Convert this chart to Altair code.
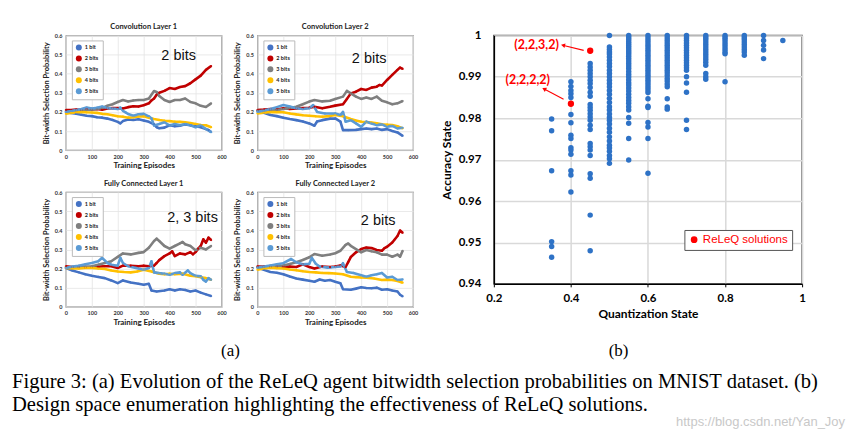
import altair as alt
import pandas as pd

# ---------------- data: bit-width selection probabilities ----------------
SERIES = ["1 bit", "2 bits", "3 bits", "4 bits", "5 bits"]
COLORS = ["#4472C4", "#C00000", "#7F7F7F", "#FFC000", "#5B9BD5"]

conv1 = {
    "1 bit": ([0,20,40,60,80,100,120,140,160,180,200,210,220,240,260,280,300,320,340,350,360,380,400,420,440,460,480,500,520,540,550,560],
              [0.20,0.195,0.19,0.185,0.18,0.178,0.172,0.17,0.165,0.158,0.148,0.14,0.152,0.16,0.158,0.162,0.155,0.148,0.135,0.12,0.115,0.118,0.13,0.125,0.128,0.135,0.13,0.125,0.12,0.11,0.105,0.095]),
    "2 bits": ([0,20,40,60,80,100,120,140,160,180,200,220,240,260,280,300,320,330,340,350,360,380,400,420,440,460,480,500,520,540,560],
               [0.21,0.21,0.212,0.21,0.215,0.213,0.215,0.212,0.218,0.22,0.22,0.218,0.225,0.23,0.228,0.235,0.245,0.26,0.27,0.29,0.30,0.31,0.325,0.32,0.33,0.335,0.35,0.37,0.39,0.42,0.44]),
    "3 bits": ([0,20,40,60,80,100,120,140,160,180,200,220,240,260,280,300,320,340,350,360,380,400,420,440,460,480,500,520,540,560],
               [0.20,0.202,0.205,0.208,0.21,0.212,0.215,0.22,0.232,0.24,0.252,0.262,0.255,0.26,0.262,0.262,0.27,0.309,0.304,0.283,0.262,0.252,0.262,0.262,0.27,0.252,0.245,0.232,0.226,0.245]),
    "4 bits": ([0,20,40,60,80,100,120,140,160,180,200,220,240,260,280,300,320,340,360,380,400,420,440,460,480,500,520,540,560],
               [0.19,0.195,0.198,0.2,0.198,0.197,0.195,0.19,0.188,0.183,0.177,0.175,0.17,0.172,0.176,0.177,0.17,0.163,0.158,0.154,0.152,0.149,0.148,0.146,0.142,0.137,0.132,0.13,0.12]),
    "5 bits": ([0,20,40,60,80,100,120,140,160,180,200,210,220,230,240,260,280,300,320,330,340,360,380,400,420,440,460,480,500,520,540,560],
               [0.20,0.205,0.21,0.215,0.223,0.218,0.222,0.228,0.22,0.218,0.215,0.223,0.206,0.198,0.189,0.18,0.188,0.19,0.177,0.166,0.129,0.137,0.146,0.129,0.137,0.13,0.137,0.13,0.12,0.13,0.111,0.094]),
}

conv2 = {
    "1 bit": ([0,25,50,75,100,125,150,175,200,220,230,250,280,300,320,330,350,380,400,420,440,460,480,500,520,540,560],
              [0.205,0.195,0.184,0.178,0.17,0.163,0.157,0.15,0.14,0.128,0.15,0.157,0.165,0.166,0.149,0.105,0.105,0.106,0.11,0.113,0.11,0.113,0.106,0.11,0.1,0.093,0.075]),
    "2 bits": ([0,25,50,75,100,125,150,175,200,220,250,280,300,330,345,360,380,400,420,440,460,470,480,500,520,540,550,560],
               [0.21,0.212,0.215,0.213,0.219,0.215,0.218,0.22,0.222,0.227,0.219,0.227,0.233,0.24,0.268,0.297,0.306,0.32,0.315,0.327,0.332,0.341,0.338,0.367,0.394,0.42,0.432,0.425]),
    "3 bits": ([0,25,50,75,100,125,150,175,200,220,250,280,300,330,345,360,380,400,420,440,460,480,500,520,540,560],
               [0.205,0.205,0.208,0.21,0.215,0.22,0.227,0.24,0.254,0.262,0.255,0.258,0.268,0.28,0.31,0.297,0.28,0.268,0.275,0.268,0.28,0.258,0.25,0.24,0.245,0.257]),
    "4 bits": ([0,25,50,75,100,125,150,175,200,225,250,275,300,330,360,380,400,420,440,460,480,500,520,540,560],
               [0.192,0.196,0.2,0.199,0.198,0.192,0.187,0.183,0.18,0.177,0.175,0.178,0.184,0.177,0.163,0.155,0.149,0.147,0.144,0.14,0.135,0.133,0.131,0.125,0.114]),
    "5 bits": ([0,25,50,75,100,125,150,175,200,215,230,260,300,320,330,340,360,380,400,420,440,460,480,500,520,540,560],
               [0.2,0.207,0.215,0.225,0.236,0.228,0.219,0.215,0.219,0.236,0.2,0.192,0.192,0.184,0.2,0.149,0.157,0.14,0.122,0.149,0.14,0.131,0.135,0.122,0.127,0.114,0.117]),
}

fc1 = {
    "1 bit": ([0,25,50,75,100,125,150,175,200,220,250,280,300,320,330,350,380,400,420,440,460,480,500,520,540,560],
              [0.203,0.19,0.18,0.17,0.162,0.156,0.15,0.138,0.124,0.138,0.127,0.12,0.115,0.12,0.085,0.08,0.085,0.092,0.085,0.092,0.088,0.08,0.085,0.074,0.065,0.056]),
    "2 bits": ([0,25,50,75,100,125,150,175,200,220,250,280,300,320,340,350,360,380,400,410,420,440,460,480,490,500,510,520,530,540,550,560],
               [0.212,0.208,0.208,0.205,0.208,0.21,0.212,0.212,0.203,0.215,0.215,0.212,0.215,0.212,0.215,0.229,0.244,0.265,0.279,0.29,0.265,0.279,0.274,0.286,0.274,0.286,0.304,0.318,0.353,0.335,0.362,0.349]),
    "3 bits": ([0,25,50,75,100,125,150,175,200,220,250,280,300,320,340,350,360,380,400,420,440,450,460,480,500,520,540,560],
               [0.203,0.205,0.207,0.21,0.212,0.22,0.229,0.238,0.261,0.279,0.274,0.282,0.286,0.309,0.344,0.356,0.344,0.318,0.304,0.318,0.332,0.339,0.327,0.318,0.296,0.309,0.3,0.318]),
    "4 bits": ([0,25,50,75,100,125,150,175,200,225,250,275,300,330,360,380,400,420,450,480,500,520,540,560],
               [0.203,0.2,0.2,0.203,0.203,0.2,0.198,0.19,0.185,0.182,0.18,0.185,0.194,0.185,0.173,0.17,0.173,0.17,0.173,0.162,0.16,0.155,0.15,0.141]),
    "5 bits": ([0,25,50,75,100,125,140,160,175,200,210,220,240,270,300,320,330,340,360,380,400,420,440,450,470,480,500,520,530,540,550,560],
               [0.203,0.21,0.215,0.222,0.229,0.238,0.256,0.229,0.22,0.215,0.256,0.229,0.212,0.203,0.194,0.203,0.238,0.18,0.176,0.173,0.168,0.176,0.18,0.168,0.19,0.176,0.162,0.159,0.141,0.132,0.15,0.141]),
}

fc2 = {
    "1 bit": ([0,25,50,75,100,125,150,175,200,220,240,260,280,300,320,330,360,380,400,420,440,460,480,500,520,540,550,560],
              [0.205,0.193,0.182,0.178,0.17,0.158,0.148,0.142,0.136,0.131,0.143,0.136,0.14,0.131,0.123,0.092,0.089,0.095,0.102,0.098,0.097,0.1,0.089,0.092,0.085,0.08,0.063,0.055]),
    "2 bits": ([0,25,50,75,100,125,150,175,200,220,250,280,300,320,340,350,360,380,400,420,440,460,480,490,500,520,530,540,550,560],
               [0.211,0.21,0.208,0.21,0.211,0.21,0.208,0.222,0.208,0.2,0.211,0.208,0.211,0.216,0.208,0.234,0.26,0.285,0.302,0.31,0.307,0.297,0.293,0.307,0.314,0.336,0.353,0.37,0.399,0.387]),
    "3 bits": ([0,25,50,75,100,125,150,175,200,220,250,280,300,320,340,350,360,380,400,420,440,460,480,500,520,540,550,560],
               [0.205,0.207,0.21,0.213,0.216,0.224,0.233,0.245,0.259,0.276,0.267,0.273,0.28,0.293,0.324,0.331,0.319,0.302,0.285,0.297,0.29,0.285,0.273,0.273,0.262,0.273,0.262,0.293]),
    "4 bits": ([0,25,50,75,100,125,150,175,200,225,250,275,300,330,360,380,400,420,450,480,500,520,540,560],
               [0.194,0.2,0.205,0.202,0.2,0.195,0.191,0.186,0.182,0.18,0.177,0.176,0.174,0.17,0.157,0.155,0.153,0.152,0.148,0.14,0.142,0.14,0.135,0.126]),
    "5 bits": ([0,25,50,75,100,130,150,175,200,210,225,240,270,300,320,330,345,370,400,420,440,460,480,500,520,540,560],
               [0.205,0.21,0.216,0.222,0.228,0.25,0.233,0.222,0.225,0.256,0.225,0.211,0.205,0.208,0.211,0.228,0.182,0.177,0.165,0.157,0.165,0.17,0.177,0.153,0.157,0.14,0.143]),
}

PANEL_TITLES = ["Convolution Layer 1", "Convolution Layer 2", "Fully Connected Layer 1", "Fully Connected Layer 2"]
PANEL_NOTES = ["2 bits", "2 bits", "2, 3 bits", "2 bits"]
PANEL_DATA = [conv1, conv2, fc1, fc2]

# ---------------- data: design space enumeration ----------------
quant_levels = [0.35, 0.40, 0.45, 0.50, 0.55, 0.60, 0.65, 0.70, 0.75, 0.80, 0.85, 0.90, 0.95]
acc_by_level = [
    [0.9798, 0.977, 0.9673, 0.9502, 0.949, 0.9464],
    [0.9888, 0.9877, 0.9867, 0.9859, 0.985, 0.9809, 0.9789, 0.9759, 0.9751, 0.9729, 0.9723, 0.9713, 0.9673, 0.9663, 0.9622],
    [0.9932, 0.9924, 0.9916, 0.9908, 0.99, 0.9892, 0.9884, 0.9874, 0.9863, 0.9853, 0.9833, 0.9826, 0.9819, 0.9811, 0.9803,
     0.9795, 0.9783, 0.9773, 0.9739, 0.9731, 0.9723, 0.971, 0.9666, 0.9655, 0.9566, 0.948],
    [1.0, 0.9972, 0.9966, 0.996, 0.9955, 0.9948, 0.994, 0.9932, 0.9925, 0.9916, 0.9908, 0.99, 0.9892, 0.9884, 0.9876, 0.9867,
     0.9858, 0.9848, 0.9838, 0.9828, 0.982, 0.981, 0.9802, 0.9795, 0.9786, 0.9776, 0.9766, 0.9755, 0.9745, 0.9735, 0.9728,
     0.972, 0.971, 0.9702, 0.9691],
    [1.0, 0.9995, 0.999, 0.9985, 0.998, 0.9975, 0.997, 0.9965, 0.996, 0.9955, 0.995, 0.9944, 0.9938, 0.9932, 0.9926, 0.992,
     0.9913, 0.9906, 0.99, 0.9893, 0.9886, 0.988, 0.9873, 0.9866, 0.9858, 0.985, 0.9843, 0.9836, 0.9828, 0.982, 0.9802,
     0.9788, 0.9751, 0.9699],
    [1.0, 0.9994, 0.9988, 0.9982, 0.9976, 0.997, 0.9964, 0.9958, 0.9952, 0.9946, 0.994, 0.9934, 0.9928, 0.9922, 0.9916,
     0.991, 0.9904, 0.9898, 0.9892, 0.9886, 0.988, 0.9874, 0.9868, 0.9862, 0.9847, 0.9829, 0.9826, 0.979, 0.9779, 0.9751, 0.9667],
    [1.0, 0.9994, 0.9988, 0.9982, 0.9976, 0.997, 0.9964, 0.9958, 0.9952, 0.9946, 0.994, 0.9934, 0.9928, 0.9922, 0.9916,
     0.991, 0.9903, 0.9896, 0.989, 0.9883, 0.9876, 0.9847, 0.9827, 0.9822],
    [1.0, 0.9994, 0.9988, 0.9982, 0.9976, 0.997, 0.9964, 0.9958, 0.9952, 0.9946, 0.994, 0.9934, 0.9928, 0.9922, 0.9916,
     0.99, 0.9885, 0.9863, 0.9795, 0.9773],
    [1.0, 0.9995, 0.999, 0.9984, 0.9978, 0.9972, 0.9966, 0.996, 0.9954, 0.9948, 0.9942, 0.9935, 0.9928, 0.9908, 0.99, 0.9894],
    [1.0, 0.9995, 0.999, 0.9984, 0.9978, 0.9972, 0.9966, 0.996, 0.9956, 0.9888],
    [1.0, 0.9995, 0.999, 0.9984, 0.9978, 0.9972, 0.9966, 0.996, 0.9952],
    [1.0, 0.9988, 0.9976, 0.9965, 0.9944],
    [0.9988],
]
releq_q = [0.45, 0.40]
releq_acc = [0.9963, 0.9835]
releq_labels = ["(2,2,3,2)", "(2,2,2,2)"]

CAPTION = ["Figure 3: (a) Evolution of the ReLeQ agent bitwidth selection probabilities on MNIST dataset. (b)",
           "Design space enumeration highlighting the effectiveness of ReLeQ solutions."]
SUBLABELS = ["(a)", "(b)"]
WATERMARK = "https://blog.csdn.net/Yan_Joy"

# ---------------- small panels ----------------
small_axis = dict(domain=False, ticks=False, grid=True, gridColor="#E3E3E3", gridWidth=0.8,
                  labelFont="Lato", labelFontWeight="bold", labelFontSize=5.5, labelColor="#333333",
                  labelPadding=4, labelFlush=False, titleFont="Lato", titleFontWeight="bold",
                  titleColor="#222222")
NOTE_POS = [(113, 21), (112, 24), (127, 26), (121, 29)]
COLOR_OF = dict(zip(SERIES, COLORS))


def panel(title, data, note, note_pos):
    rows = []
    for s, (eps, vals) in data.items():
        for e, v in zip(eps, vals):
            rows.append({"s": s, "col": COLOR_OF[s], "ep": e, "p": v})
    df = pd.DataFrame(rows)
    x = alt.X("ep:Q", scale=alt.Scale(domain=[0, 600], nice=False),
              axis=alt.Axis(title="Training Episodes", values=[0, 100, 200, 300, 400, 500, 600],
                            titleFontSize=8, titlePadding=2, **small_axis))
    y = alt.Y("p:Q", scale=alt.Scale(domain=[0, 0.6], nice=False),
              axis=alt.Axis(title="Bit-width Selection Probability", values=[0, 0.1, 0.2, 0.3, 0.4, 0.5, 0.6],
                            format="~g", titleFontSize=7.5, titlePadding=4, **small_axis))
    lines = alt.Chart(df).mark_line(strokeWidth=2.6, strokeJoin="round").encode(
        x=x, y=y, detail="s:N", stroke=alt.Stroke("col:N", scale=None))
    pts = alt.Chart(df).mark_circle(size=5, opacity=1).encode(
        x=x, y=y,
        fill=alt.Fill("s:N", scale=alt.Scale(domain=SERIES, range=COLORS),
                      legend=alt.Legend(title=None, orient="none", legendX=6, legendY=5, padding=4,
                                        direction="vertical", columns=1,
                                        strokeColor="#BBBBBB", fillColor="white", symbolType="circle",
                                        symbolSize=36, symbolStrokeWidth=0, labelFont="Lato",
                                        labelFontWeight="bold", labelFontSize=5.5, labelColor="#222222",
                                        labelOffset=3, rowPadding=4)))
    txt = alt.Chart(pd.DataFrame({"t": [note]})).mark_text(
        font="Liberation Sans", fontSize=14.5, align="center", baseline="middle", color="#111111"
    ).encode(text="t:N", x=alt.value(note_pos[0]), y=alt.value(note_pos[1]))
    return alt.layer(lines, pts, txt).properties(
        width=156, height=115,
        title=alt.Title(title, font="Lato", fontSize=7.5, fontWeight="bold", offset=3, color="#222222"),
        view=alt.ViewBackground(stroke="#7A7A7A", strokeWidth=1.2))


panels = [panel(t, d, n, p) for t, d, n, p in zip(PANEL_TITLES, PANEL_DATA, PANEL_NOTES, NOTE_POS)]
grid = alt.concat(*panels, columns=2, spacing={"row": 7, "column": 5}).resolve_scale(
    fill="independent", x="independent", y="independent"
).resolve_legend(fill="independent")

# ---------------- scatter ----------------
brows = []
for q, accs in zip(quant_levels, acc_by_level):
    for a in accs:
        brows.append({"q": q, "acc": a})
bdf = pd.DataFrame(brows)
rdf = pd.DataFrame({"q": releq_q, "acc": releq_acc, "lab": ["ReLeQ solutions"] * len(releq_q)})

sx = alt.X("q:Q", scale=alt.Scale(domain=[0.2, 1.0], nice=False, zero=False),
           axis=alt.Axis(title="Quantization State", values=[0.2, 0.4, 0.6, 0.8, 1.0], format="~g",
                         grid=True, gridColor="#D9D9D9", gridWidth=1.5, domainColor="black", domainWidth=1.5,
                         tickColor="black", tickSize=3, labelFont="Lato", labelFontWeight="bold",
                         labelFontSize=11.5, labelColor="black", labelPadding=6, labelFlush=False,
                         titleFont="Lato", titleFontSize=12, titleFontWeight="bold", titleColor="black",
                         titlePadding=4))
sy = alt.Y("acc:Q", scale=alt.Scale(domain=[0.94, 1.0], nice=False, zero=False),
           axis=alt.Axis(title="Accuracy State", values=[0.94, 0.95, 0.96, 0.97, 0.98, 0.99, 1.0], format="~g",
                         grid=True, gridColor="#D9D9D9", gridWidth=1.5, domainColor="black", domainWidth=1.5,
                         ticks=False, labelFont="Lato", labelFontWeight="bold", labelFontSize=11.5,
                         labelColor="black", labelPadding=13, labelFlush=False, titleFont="Lato",
                         titleFontSize=12, titleFontWeight="bold", titleColor="black", titlePadding=5))

blue = alt.Chart(bdf).mark_circle(size=30, color="#2E72C6", opacity=1).encode(x=sx, y=sy)
red = alt.Chart(rdf).mark_circle(size=40, opacity=1).encode(
    x=sx, y=sy,
    fill=alt.Fill("lab:N", scale=alt.Scale(domain=["ReLeQ solutions"], range=["#FF0000"]),
                  legend=alt.Legend(title=None, orient="none", legendX=191, legendY=195, padding=4,
                                    strokeColor="#555555", fillColor="white", symbolType="circle",
                                    symbolSize=45, symbolStrokeWidth=0, labelFont="Liberation Sans",
                                    labelFontSize=11.5, labelColor="#FF0000", labelOffset=3)))

ann = pd.DataFrame({
    "lab": releq_labels,
    "tx": [0.311, 0.288], "ty": [0.9978, 0.9892],
    "ax0": [0.4332, 0.381], "ay0": [0.99639, 0.98458],
    "ax1": [0.3813, 0.332], "ay1": [0.99759, 0.98699],
    "ang": [284, 298],
})
ann_text = alt.Chart(ann).mark_text(font="Lato", fontWeight="bold", fontSize=12.5, color="#FF0000",
                                    align="center", baseline="middle").encode(
    x=alt.X("tx:Q"), y=alt.Y("ty:Q"), text="lab:N")
ann_rule = alt.Chart(ann).mark_rule(color="#FF0000", strokeWidth=1.1).encode(
    x="ax0:Q", y="ay0:Q", x2="ax1:Q", y2="ay1:Q")
ann_head = alt.Chart(ann).mark_point(shape="triangle", filled=True, size=22, color="#FF0000", opacity=1).encode(
    x="ax1:Q", y="ay1:Q", angle=alt.Angle("ang:Q", scale=None))

scatter = alt.layer(blue, red, ann_rule, ann_head, ann_text).properties(
    width=309, height=249,
    title=alt.Title("x", fontSize=2, color="white", offset=13),
    view=alt.ViewBackground(stroke="#555555", strokeWidth=1.5))

spacer = alt.Chart(pd.DataFrame({"v": [0]})).mark_point(size=0, opacity=0).encode(
    x=alt.value(0), y=alt.value(0)).properties(width=11, height=10, view=alt.ViewBackground(stroke="transparent"))

right_part = alt.hconcat(grid, scatter, spacing=20).resolve_scale(fill="independent")
top = alt.hconcat(spacer, right_part, spacing=20).resolve_scale(fill="independent")

# ---------------- caption ----------------
cap_layers = []
for lab, cx in zip(SUBLABELS, [222, 611]):
    cap_layers.append(alt.Chart(pd.DataFrame({"t": [lab]})).mark_text(
        font="Liberation Serif", fontSize=17, align="center", baseline="middle", color="black"
    ).encode(text="t:N", x=alt.value(cx), y=alt.value(22)))
for line, cy in zip(CAPTION, [53, 76]):
    cap_layers.append(alt.Chart(pd.DataFrame({"t": [line]})).mark_text(
        font="Liberation Serif", fontSize=20.6, align="left", baseline="middle", color="black"
    ).encode(text="t:N", x=alt.value(3), y=alt.value(cy)))
cap_layers.append(alt.Chart(pd.DataFrame({"t": [WATERMARK]})).mark_text(
    font="Liberation Sans", fontSize=13, align="right", baseline="middle", color="#C8C8C8"
).encode(text="t:N", x=alt.value(838), y=alt.value(93)))
caption = alt.layer(*cap_layers).properties(width=840, height=100,
                                            view=alt.ViewBackground(stroke="transparent"))

chart = alt.vconcat(top, caption, spacing=0).resolve_scale(fill="independent").properties(
    padding={"left": 0, "top": 5, "right": 0, "bottom": 0}, background="white")

chart.save("out.html", embed_options={"renderer": "svg", "actions": False})
